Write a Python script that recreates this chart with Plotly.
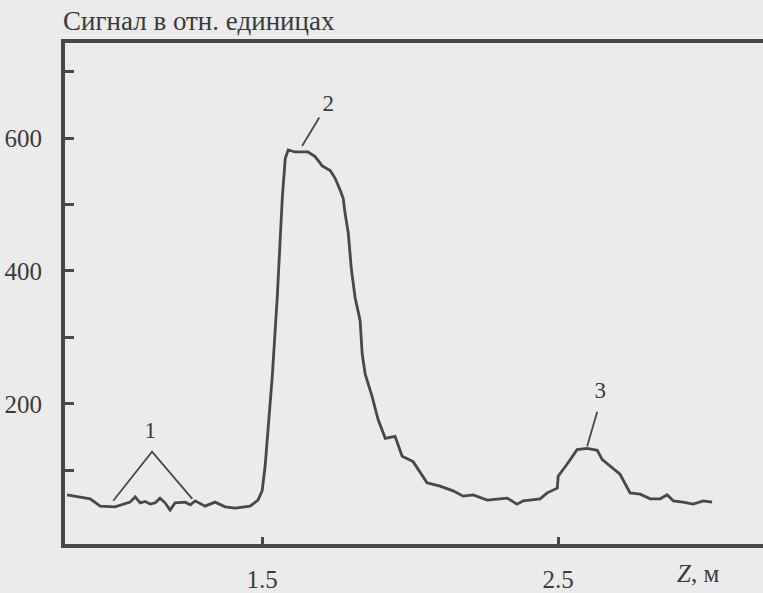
import plotly.graph_objects as go

# Signal curve (Z in metres, signal in relative units)
z_values = [0.841, 0.919, 0.953, 1.003, 1.054, 1.071, 1.088, 1.105, 1.122, 1.139, 1.155, 1.172,
            1.189, 1.206, 1.240, 1.257, 1.274, 1.290, 1.307, 1.341, 1.358, 1.375, 1.409, 1.459,
            1.486, 1.500, 1.510, 1.520, 1.534, 1.551, 1.568, 1.578, 1.588, 1.611, 1.655, 1.679,
            1.703, 1.730, 1.747, 1.764, 1.774, 1.780, 1.791, 1.801, 1.814, 1.831, 1.838, 1.848,
            1.872, 1.892, 1.916, 1.949, 1.973, 2.010, 2.034, 2.057, 2.101, 2.145, 2.179, 2.213,
            2.260, 2.304, 2.328, 2.361, 2.382, 2.439, 2.463, 2.497, 2.500, 2.530, 2.564, 2.598,
            2.632, 2.649, 2.686, 2.709, 2.743, 2.777, 2.811, 2.845, 2.868, 2.889, 2.922, 2.956,
            2.990, 3.020]
signal = [63, 57, 46, 45, 52, 60, 51, 53, 49, 51, 58, 51,
          40, 51, 52, 48, 54, 50, 46, 52, 49, 45, 43, 46,
          55, 69, 106, 166, 240, 360, 509, 569, 582, 579, 579, 572,
          558, 551, 539, 521, 509, 487, 457, 404, 360, 325, 275, 245,
          210, 176, 148, 151, 121, 113, 96, 81, 76, 69, 61, 63,
          55, 57, 58, 49, 54, 57, 66, 73, 91, 109, 131, 133,
          130, 116, 103, 94, 66, 64, 57, 57, 63, 54, 52, 49,
          54, 52]

# Peak markers: leader lines and labels
marker1_z = [0.997, 1.128, 1.264]
marker1_s = [54, 128, 57]
marker2_z = [1.635, 1.693]
marker2_s = [588, 631]
marker3_z = [2.598, 2.632]
marker3_s = [136, 188]
label_text = ["1", "2", "3"]
label_z = [1.122, 1.723, 2.642]
label_s = [157, 650, 218]

y_tickvals = [100, 200, 300, 400, 500, 600, 700]
y_ticktext = ["", "200", "", "400", "", "600", ""]
x_tickvals = [1.5, 2.5]
x_ticktext = ["1.5", "2.5"]

ink = "#484848"
txt = "#3a3a3a"
bg = "#ebebeb"
font = "Liberation Serif"

fig = go.Figure()
fig.add_trace(go.Scatter(x=z_values, y=signal, mode="lines",
                         line=dict(color=ink, width=2.8), hoverinfo="skip"))
for zz, ss in [(marker1_z, marker1_s), (marker2_z, marker2_s), (marker3_z, marker3_s)]:
    fig.add_trace(go.Scatter(x=zz, y=ss, mode="lines",
                             line=dict(color=ink, width=1.8), hoverinfo="skip"))
fig.add_trace(go.Scatter(x=label_z, y=label_s, mode="text", text=label_text,
                         textfont=dict(family=font, size=23, color=txt), hoverinfo="skip"))

fig.update_layout(
    width=763, height=593,
    margin=dict(l=65, r=0, t=43, b=45),
    paper_bgcolor=bg, plot_bgcolor=bg,
    showlegend=False,
    font=dict(family=font, size=25, color=txt),
    xaxis=dict(range=[0.834, 3.192], showgrid=False, zeroline=False,
               showline=True, linecolor=ink, linewidth=4, mirror=True,
               tickmode="array", tickvals=x_tickvals, ticktext=x_ticktext,
               ticks="inside", ticklen=7, tickwidth=3, tickcolor=ink,
               ticklabelstandoff=10),
    yaxis=dict(range=[-11, 743], showgrid=False, zeroline=False,
               showline=True, linecolor=ink, linewidth=4,
               tickmode="array", tickvals=y_tickvals, ticktext=y_ticktext,
               ticks="inside", ticklen=9, tickwidth=3, tickcolor=ink,
               ticklabelstandoff=14),
    annotations=[
        dict(text="Сигнал в отн. единицах", xref="paper", yref="paper",
             x=0, y=1, xanchor="left", yanchor="bottom", xshift=-4, yshift=5,
             showarrow=False, font=dict(family=font, size=27, color=txt)),
        dict(text="<i>Z</i>, м", xref="paper", yref="paper",
             x=0.874, y=0, xanchor="left", yanchor="top", yshift=-14,
             showarrow=False, font=dict(family=font, size=25, color=txt)),
    ],
)

fig.write_html(
    "out.html",
    config={"displayModeBar": False},
    post_script="document.body.style.margin='0';document.body.style.overflow='hidden';"
                "document.body.style.background='" + bg + "';",
)
